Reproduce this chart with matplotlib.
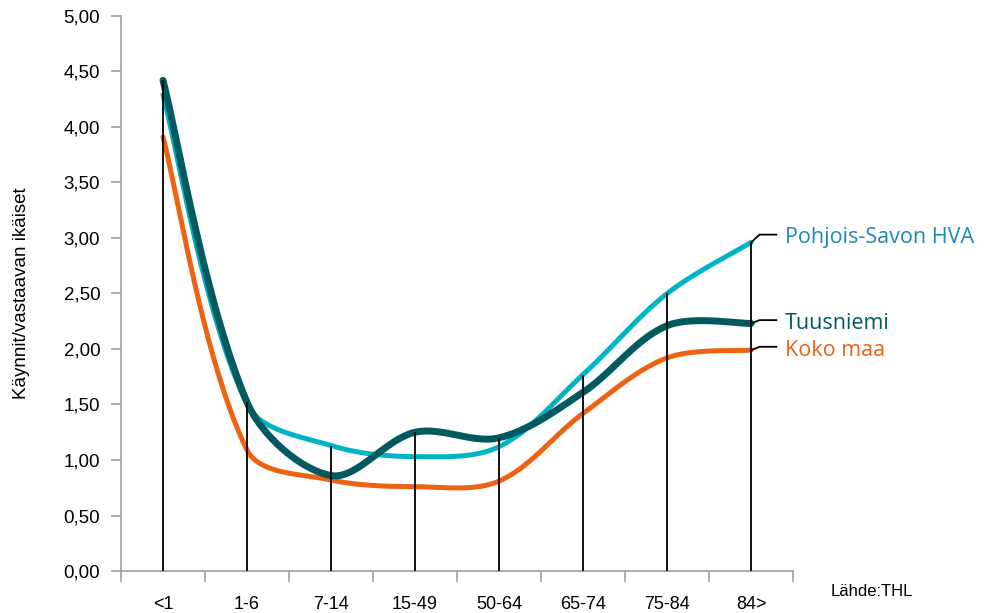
import numpy as np
import matplotlib
matplotlib.use('Agg')
import matplotlib.pyplot as plt
from matplotlib.ticker import FuncFormatter, MultipleLocator

plt.rcParams['font.family'] = ['Liberation Sans', 'DejaVu Sans']

# data
categories = ['<1', '1-6', '7-14', '15-49', '50-64', '65-74', '75-84', '84>']
tuusniemi = [4.42, 1.52, 0.86, 1.25, 1.20, 1.61, 2.21, 2.23]
pohjois_savo = [4.29, 1.50, 1.13, 1.03, 1.12, 1.77, 2.50, 2.96]
koko_maa = [3.91, 1.09, 0.82, 0.76, 0.81, 1.42, 1.92, 1.99]
series_names = ['Pohjois-Savon HVA', 'Tuusniemi', 'Koko maa']

c_dark = '#005a60'
c_cyan = '#00b4c6'
c_orange = '#ee6212'
c_cyan_text = '#1a8ab4'

# screen scale (px per data unit) used for the smoothing
sx_px, sy_px = 84.0, 111.0


def smooth(x, y, n=40):
    # excel-like smoothed line: bezier arms scaled by neighbouring segment lengths
    p = np.column_stack([np.asarray(x) * sx_px, np.asarray(y) * sy_px]).astype(float)
    m = len(p)
    t = np.linspace(0, 1, n)[:, None]

    def arm(i, forward):
        prev = p[max(i - 1, 0)]
        nxt = p[min(i + 1, m - 1)]
        d_prev = np.hypot(*(p[i] - prev))
        d_next = np.hypot(*(nxt - p[i]))
        tot = d_prev + d_next
        if tot == 0:
            return np.zeros(2)
        if i == 0 or i == m - 1:
            return (nxt - prev) / 3.0 * 0.5
        frac = d_next / tot if forward else d_prev / tot
        return (nxt - prev) * frac / 3.0

    out = []
    for i in range(m - 1):
        p0, p3 = p[i], p[i + 1]
        c1 = p0 + arm(i, True)
        c2 = p3 - arm(i + 1, False)
        seg = ((1 - t) ** 3) * p0 + 3 * ((1 - t) ** 2) * t * c1 + 3 * (1 - t) * t ** 2 * c2 + t ** 3 * p3
        out.append(seg)
    out = np.vstack(out)
    return out[:, 0] / sx_px, out[:, 1] / sy_px


fig = plt.figure(figsize=(10.04, 6.13), dpi=100)
ax = fig.add_axes([0.1205, 0.0685, 0.6695, 0.9055])

x = np.arange(len(categories))

lx, ly_ = smooth(x, koko_maa)
ax.plot(lx, ly_, color=c_orange, lw=3.6, solid_capstyle='round', zorder=3)
lx, ly_ = smooth(x, pohjois_savo)
ax.plot(lx, ly_, color=c_cyan, lw=3.6, solid_capstyle='round', zorder=4)
lx, ly_ = smooth(x, tuusniemi)
ax.plot(lx, ly_, color=c_dark, lw=5, solid_capstyle='round', zorder=5)

# drop lines
tops = np.max(np.vstack([tuusniemi, pohjois_savo, koko_maa]), axis=0)
ax.vlines(x, 0, tops, color='black', lw=1.3, zorder=6)

# labels with leader lines
label_y = [3.03, 2.26, 2.02]
label_col = [c_cyan_text, c_dark, c_orange]
last_vals = [pohjois_savo[-1], tuusniemi[-1], koko_maa[-1]]
for name, ly, col, lv in zip(series_names, label_y, label_col, last_vals):
    ax.plot([x[-1], x[-1] + 0.1, x[-1] + 0.3], [lv, ly, ly], color='black', lw=1.3,
            clip_on=False, zorder=6)
    ax.text(x[-1] + 0.4, ly - 0.03, name, color=col, fontsize=15.5, va='center', ha='left',
            family='Open Sans', clip_on=False)

ax.set_xlim(-0.5, len(categories) - 0.5)
ax.set_ylim(0, 5)
ax.yaxis.set_major_locator(MultipleLocator(0.5))
ax.yaxis.set_major_formatter(FuncFormatter(lambda v, p: f'{v:.2f}'.replace('.', ',')))

ax.set_xticks(np.arange(-0.5, len(categories), 1.0))
ax.set_xticklabels([])
ax.set_xticks(x, minor=True)
ax.set_xticklabels(categories, minor=True)
ax.tick_params(axis='x', which='minor', length=0, pad=18, labelsize=13)
ax.tick_params(axis='x', which='major', length=8, color='#a0a0a0', width=1.2)
ax.tick_params(axis='y', length=7, color='#a0a0a0', width=1.2, labelsize=13.5, pad=8)

for s in ['top', 'right']:
    ax.spines[s].set_visible(False)
for s in ['left', 'bottom']:
    ax.spines[s].set_color('#a0a0a0')
    ax.spines[s].set_linewidth(1.2)

ax.set_ylabel('Käynnit/vastaavan ikäiset', fontsize=13.5, labelpad=24)
fig.text(0.827, 0.035, 'Lähde:THL', fontsize=12, ha='left', va='center')

fig.savefig('out.png', dpi=100)
